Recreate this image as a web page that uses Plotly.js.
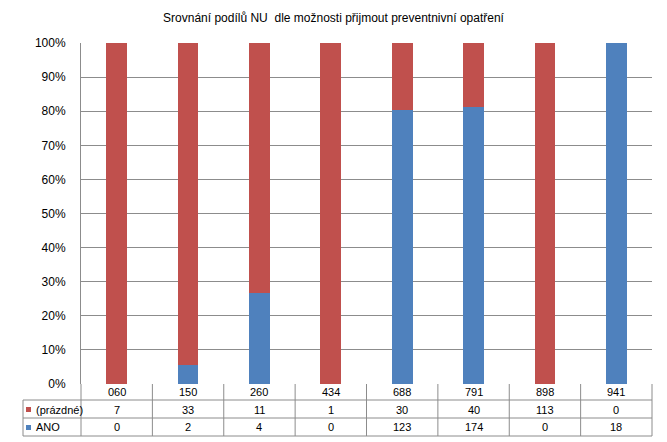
<!DOCTYPE html>
<html>
<head>
<meta charset="utf-8">
<script src="https://cdn.plot.ly/plotly-3.0.1.min.js"></script>
<style>html,body{margin:0;padding:0;background:#fff;}#chart{width:667px;height:442px;}</style>
</head>
<body>
<div id="chart"></div>
<script>
const categories = ["060","150","260","434","688","791","898","941"];
const seriesNames = ["(prázdné)","ANO"];
const prazdne = [7,33,11,1,30,40,113,0];
const ano = [0,2,4,0,123,174,0,18];
const yTickVals = [0,10,20,30,40,50,60,70,80,90,100];
const yTickText = yTickVals.map(v => v + "%");

const RED = "#C0504D", BLUE = "#4F81BD";
const FONT = "Liberation Sans, Arial, sans-serif";

const W = 667, H = 442, L = 81, R = 15, T = 43, B = 58;
const pw = W - L - R, ph = H - T - B;
const px = x => (x - L) / pw;
const py = y => (H - B - y) / ph;

const traces = [
  {type:"bar", name:seriesNames[1], x:categories, y:ano, marker:{color:BLUE}, hoverinfo:"skip"},
  {type:"bar", name:seriesNames[0], x:categories, y:prazdne, marker:{color:RED}, hoverinfo:"skip"}
];

const lineC = "#8c8c8c";
const shapes = [];
const annotations = [];
const n = categories.length;
const rowLines = [400, 418, 436];
const rowCenters = [392, 409.5, 427.5];
rowLines.forEach(y => shapes.push({type:"line", xref:"paper", yref:"paper", x0:px(23), x1:1, y0:py(y), y1:py(y), line:{color:lineC, width:1}}));
shapes.push({type:"line", xref:"paper", yref:"paper", x0:px(23), x1:px(23), y0:py(400), y1:py(436), line:{color:lineC, width:1}});
for (let i = 0; i <= n; i++) {
  shapes.push({type:"line", xref:"paper", yref:"paper", x0:i/n, x1:i/n, y0:0, y1:py(436), line:{color:lineC, width:1}});
}
const legendColors = [RED, BLUE];
[1,2].forEach((r, k) => {
  const cy = rowCenters[r];
  shapes.push({type:"rect", xref:"paper", yref:"paper", x0:px(26), x1:px(31), y0:py(cy+2.5), y1:py(cy-2.5), fillcolor:legendColors[k], line:{width:0}});
  annotations.push({xref:"paper", yref:"paper", x:px(34), y:py(cy), xanchor:"left", yanchor:"middle", text:seriesNames[k], showarrow:false, font:{family:FONT, size:11, color:"#000"}});
});
const rows = [categories, prazdne, ano];
rows.forEach((vals, r) => {
  vals.forEach((v, i) => {
    annotations.push({xref:"paper", yref:"paper", x:(i+0.5)/n, y:py(rowCenters[r]), xanchor:"center", yanchor:"middle", text:String(v), showarrow:false, font:{family:FONT, size:11, color:"#000"}});
  });
});

const layout = {
  width: W, height: H,
  margin: {l:L, r:R, t:T, b:B, pad:0},
  paper_bgcolor:"#fff", plot_bgcolor:"#fff",
  title: {text:"Srovnání podílů NU  dle možnosti přijmout preventnivní opatření", x:0.5, xanchor:"center", y:1-18/H, yanchor:"middle", font:{family:FONT, size:12, color:"#000"}},
  barmode:"stack", barnorm:"percent", bargap:0.71,
  showlegend:false,
  xaxis:{type:"category", range:[-0.5, n-0.5], showticklabels:false, ticks:"", showgrid:false, zeroline:false, showline:false, fixedrange:true},
  yaxis:{range:[0,100], tickvals:yTickVals, ticktext:yTickText, showgrid:true, gridcolor:lineC, gridwidth:1, zeroline:false, showline:true, linecolor:lineC, linewidth:1, ticks:"", ticklabelstandoff:12, tickfont:{family:FONT, size:12, color:"#000"}, fixedrange:true},
  shapes: shapes,
  annotations: annotations
};

Plotly.newPlot("chart", traces, layout, {displayModeBar:false, staticPlot:true});
</script>
</body>
</html>
